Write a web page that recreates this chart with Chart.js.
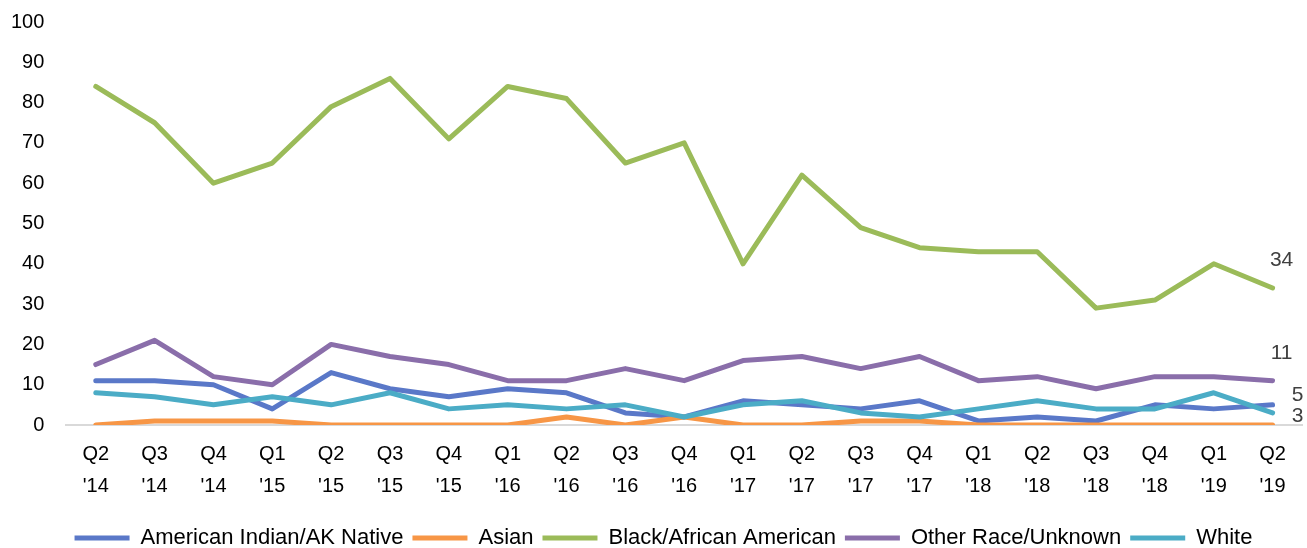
<!DOCTYPE html>
<html>
<head>
<meta charset="utf-8">
<script src="https://cdn.jsdelivr.net/npm/chart.js@4/dist/chart.umd.min.js"></script>
<style>
  html, body { margin: 0; padding: 0; background: #ffffff; }
  #wrap { width: 1307px; height: 548px; position: relative; }
</style>
</head>
<body>
<div id="wrap"><canvas id="c"></canvas></div>
<script>
const categories = [
  ["Q2", "'14"], ["Q3", "'14"], ["Q4", "'14"],
  ["Q1", "'15"], ["Q2", "'15"], ["Q3", "'15"], ["Q4", "'15"],
  ["Q1", "'16"], ["Q2", "'16"], ["Q3", "'16"], ["Q4", "'16"],
  ["Q1", "'17"], ["Q2", "'17"], ["Q3", "'17"], ["Q4", "'17"],
  ["Q1", "'18"], ["Q2", "'18"], ["Q3", "'18"], ["Q4", "'18"],
  ["Q1", "'19"], ["Q2", "'19"]
];
const americanIndian = [11, 11, 10, 4, 13, 9, 7, 9, 8, 3, 2, 6, 5, 4, 6, 1, 2, 1, 5, 4, 5];
const asian          = [0, 1, 1, 1, 0, 0, 0, 0, 2, 0, 2, 0, 0, 1, 1, 0, 0, 0, 0, 0, 0];
const black          = [84, 75, 60, 65, 79, 86, 71, 84, 81, 65, 70, 40, 62, 49, 44, 43, 43, 29, 31, 40, 34];
const otherRace      = [15, 21, 12, 10, 20, 17, 15, 11, 11, 14, 11, 16, 17, 14, 17, 11, 12, 9, 12, 12, 11];
const white          = [8, 7, 5, 7, 5, 8, 4, 5, 4, 5, 2, 5, 6, 3, 2, 4, 6, 4, 4, 8, 3];
const seriesNames = ["American Indian/AK Native", "Asian", "Black/African American", "Other Race/Unknown", "White"];
const yTicks = [0, 10, 20, 30, 40, 50, 60, 70, 80, 90, 100];

const colors = ["#5A78C8", "#F79646", "#9BBB59", "#8A6EAA", "#4BACC6"];
const allSeries = [americanIndian, asian, black, otherRace, white];
const drawOrder = [5, 4, 3, 2, 1];

const FONT = "'Liberation Sans', Arial, sans-serif";

// offsets (px) for the end-of-line value labels: [dx, dy] per dataset
const labelOffsets = { 0: [25, -10], 2: [9, -28], 3: [9, -27], 4: [25, 3] };

const endLabels = {
  id: 'endLabels',
  afterDatasetsDraw(chart) {
    const ctx = chart.ctx;
    ctx.save();
    ctx.font = "21px " + FONT;
    ctx.fillStyle = "#404040";
    ctx.textAlign = "center";
    ctx.textBaseline = "middle";
    Object.keys(labelOffsets).forEach(k => {
      const i = +k;
      const meta = chart.getDatasetMeta(i);
      const last = meta.data.length - 1;
      const pt = meta.data[last];
      const v = chart.data.datasets[i].data[last];
      ctx.fillText(String(v), pt.x + labelOffsets[i][0], pt.y + labelOffsets[i][1]);
    });
    ctx.restore();
  }
};

const legendShift = {
  id: 'legendShift',
  afterLayout(chart) {
    if (chart.legend) { chart.legend.left += 18; chart.legend.right += 18; }
  }
};

new Chart(document.getElementById('c'), {
  type: 'line',
  data: {
    labels: categories,
    datasets: allSeries.map((d, i) => ({
      label: seriesNames[i],
      data: d,
      borderColor: colors[i],
      backgroundColor: colors[i],
      borderWidth: 5,
      borderCapStyle: 'round',
      borderJoinStyle: 'round',
      pointRadius: 0,
      pointHoverRadius: 0,
      tension: 0,
      fill: false,
      order: drawOrder[i]
    }))
  },
  options: {
    responsive: true,
    maintainAspectRatio: false,
    animation: false,
    layout: { padding: { top: 22, left: -11, right: 5, bottom: -11 } },
    plugins: {
      tooltip: { enabled: false },
      legend: {
        position: 'bottom',
        labels: {
          usePointStyle: true,
          pointStyle: 'line',
          pointStyleWidth: 55,
          boxHeight: 5,
          padding: 9,
          color: '#000000',
          font: { family: FONT, size: 22 },
          sort: (a, b) => a.datasetIndex - b.datasetIndex
        }
      }
    },
    scales: {
      x: {
        offset: true,
        grid: { display: false, drawTicks: false },
        border: { display: true, color: '#D9D9D9', width: 2 },
        ticks: {
          color: '#000000',
          padding: 13,
          maxRotation: 0,
          autoSkip: false,
          font: { family: FONT, size: 20, lineHeight: 1.6 }
        },
        afterFit: (s) => { s.height += 3; }
      },
      y: {
        min: 0,
        max: 100,
        afterBuildTicks: (s) => { s.ticks = yTicks.map(v => ({ value: v })); },
        afterFit: (s) => { s.paddingTop = 0; s.paddingBottom = 0; },
        grid: { display: false, drawTicks: false },
        border: { display: false },
        ticks: {
          color: '#000000',
          padding: 22,
          font: { family: FONT, size: 20 }
        }
      }
    }
  },
  plugins: [endLabels, legendShift]
});
</script>
</body>
</html>
